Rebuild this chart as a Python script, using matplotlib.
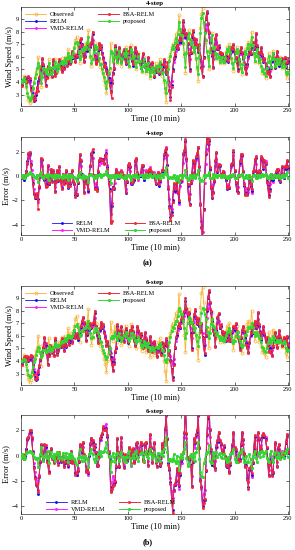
import numpy as np
import matplotlib
matplotlib.use("Agg")
import matplotlib.pyplot as plt

plt.rcParams['font.family'] = ['Liberation Serif', 'DejaVu Serif']

# wind speed in 0.1 m/s, one value per 10-min step (t = 0..250)
observed = [
    42, 39, 41, 45, 43, 36, 30, 26, 23, 25,
    29, 34, 40, 44, 48, 50, 60, 52, 46, 36,
    45, 53, 50, 46, 51, 44, 58, 50, 45, 49,
    53, 50, 58, 52, 48, 55, 50, 56, 59, 53,
    57, 60, 54, 59, 66, 58, 62, 56, 60, 64,
    68, 73, 76, 69, 65, 55, 62, 68, 64, 70,
    66, 69, 72, 81, 65, 60, 53, 58, 66, 71,
    65, 69, 62, 58, 52, 55, 49, 46, 42, 38,
    31, 40, 48, 50, 71, 64, 56, 61, 68, 59,
    55, 62, 66, 58, 53, 59, 65, 61, 68, 63,
    56, 52, 60, 69, 64, 58, 62, 55, 50, 57,
    63, 56, 51, 48, 54, 60, 53, 47, 52, 56,
    49, 43, 48, 53, 50, 45, 55, 52, 48, 54,
    58, 51, 45, 49, 40, 32, 24, 39, 52, 59,
    62, 68, 70, 65, 73, 78, 72, 80, 93, 81,
    76, 79, 70, 61, 47, 64, 78, 81, 73, 69,
    74, 68, 63, 70, 58, 50, 41, 62, 83, 94,
    99, 87, 80, 72, 64, 60, 50, 66, 75, 79,
    65, 69, 62, 58, 63, 59, 55, 59, 61, 56,
    55, 60, 64, 68, 65, 70, 63, 58, 55, 49,
    59, 65, 68, 63, 57, 53, 50, 46, 55, 62,
    66, 61, 69, 72, 65, 70, 80, 68, 62, 56,
    63, 68, 60, 55, 59, 52, 47, 50, 46, 43,
    52, 58, 63, 56, 50, 60, 65, 57, 52, 56,
    59, 53, 56, 60, 51, 55, 58, 52, 46, 43, 50,
]

# 4-step ahead forecasts
relm_4 = [
    40, 38, 41, 42, 43, 40, 42, 44, 42, 35,
    31, 28, 25, 26, 30, 35, 41, 43, 47, 50,
    58, 53, 47, 38, 44, 52, 51, 47, 50, 45,
    57, 51, 46, 48, 52, 51, 57, 53, 49, 54,
    51, 55, 58, 54, 56, 59, 55, 58, 64, 59,
    61, 57, 60, 63, 67, 72, 74, 70, 64, 57,
    61, 67, 65, 69, 66, 68, 71, 78, 66, 61,
    55, 58, 65, 70, 66, 68, 63, 59, 53, 55,
    50, 47, 43, 39, 33, 39, 47, 50, 68, 64,
    57, 60, 67, 60, 56, 61, 65, 59, 54, 58,
    64, 62, 67, 63, 57, 53, 59, 67, 64, 59,
    61, 56, 51, 56, 62, 57, 52, 49, 53, 59,
    54, 48, 51, 55, 50, 44, 48, 52, 50, 46,
    54, 52, 49, 53, 57, 52, 46, 48, 41, 34,
    28, 38, 50, 58, 61, 67, 69, 66, 72, 76,
    72, 79, 88, 81, 76, 78, 70, 62, 50, 63,
    76, 80, 74, 69, 73, 68, 64, 69, 59, 52,
    45, 60, 80, 90, 95, 86, 79, 72, 65, 61,
    52, 65, 74, 77, 66, 68, 63, 59, 62, 59,
    56, 59, 61, 57, 56, 60, 63, 67, 65, 69,
    63, 59, 56, 50, 58, 64, 67, 63, 58, 54,
    51, 47, 54, 61, 65, 62, 68, 71, 66, 69,
    78, 68, 63, 57, 62, 67, 61, 56, 58, 53,
    48, 50, 47, 45, 51, 57, 62, 57, 51, 59,
    64, 58, 53, 55, 58, 54, 56, 59, 52, 55, 57,
]
bsa_relm_4 = [
    41, 37, 42, 43, 44, 39, 41, 45, 43, 34,
    30, 27, 26, 27, 31, 36, 33, 44, 48, 51,
    59, 54, 48, 37, 43, 53, 52, 46, 51, 44,
    58, 52, 45, 47, 53, 52, 58, 52, 48, 55,
    50, 56, 59, 53, 57, 60, 54, 57, 65, 60,
    62, 56, 61, 64, 68, 73, 75, 69, 63, 56,
    60, 68, 66, 70, 67, 69, 72, 80, 67, 60,
    54, 57, 66, 71, 67, 69, 62, 58, 52, 54,
    49, 46, 42, 38, 32, 27, 46, 51, 69, 65,
    58, 61, 68, 61, 57, 62, 66, 60, 55, 59,
    65, 63, 68, 64, 58, 54, 60, 68, 65, 60,
    62, 57, 52, 57, 63, 58, 53, 50, 54, 60,
    55, 49, 52, 56, 51, 45, 49, 53, 51, 47,
    55, 53, 50, 54, 58, 53, 47, 56, 42, 33,
    26, 36, 49, 59, 62, 68, 70, 67, 73, 77,
    73, 80, 89, 82, 77, 79, 71, 63, 49, 64,
    77, 81, 75, 70, 74, 69, 65, 70, 60, 51,
    44, 59, 81, 91, 96, 87, 80, 73, 66, 62,
    51, 66, 75, 78, 67, 69, 64, 60, 63, 60,
    57, 60, 62, 58, 57, 61, 64, 68, 66, 70,
    64, 60, 57, 49, 57, 65, 68, 64, 59, 55,
    50, 46, 53, 62, 66, 63, 69, 72, 67, 70,
    79, 69, 64, 58, 63, 68, 62, 57, 59, 54,
    47, 49, 46, 44, 52, 58, 63, 58, 52, 60,
    65, 59, 54, 56, 59, 55, 57, 60, 53, 56, 58,
]
vmd_relm_4 = [
    41, 40, 41, 42, 42, 40, 40, 41, 40, 37,
    34, 31, 29, 29, 31, 35, 39, 42, 45, 48,
    53, 51, 48, 44, 46, 50, 51, 49, 50, 48,
    53, 51, 49, 50, 52, 52, 55, 53, 51, 53,
    53, 55, 57, 55, 57, 58, 57, 58, 61, 60,
    61, 59, 61, 63, 66, 69, 70, 68, 65, 61,
    63, 66, 66, 68, 67, 68, 70, 73, 67, 63,
    59, 60, 64, 67, 66, 66, 63, 60, 56, 55,
    52, 49, 46, 43, 40, 42, 47, 51, 62, 62,
    58, 60, 64, 61, 58, 60, 63, 60, 57, 58,
    62, 61, 64, 62, 58, 56, 59, 64, 62, 59,
    60, 57, 54, 56, 59, 57, 54, 52, 53, 57,
    54, 50, 51, 53, 51, 48, 49, 52, 51, 49,
    53, 52, 50, 52, 55, 52, 48, 48, 44, 40,
    37, 41, 49, 56, 60, 65, 67, 67, 70, 73,
    71, 75, 81, 78, 75, 76, 71, 66, 58, 63,
    71, 75, 72, 69, 71, 68, 65, 67, 61, 57,
    53, 60, 74, 82, 86, 81, 76, 71, 67, 64,
    58, 64, 70, 72, 66, 67, 64, 61, 62, 60,
    58, 59, 61, 59, 58, 60, 62, 65, 64, 66,
    63, 60, 58, 54, 57, 62, 64, 62, 59, 56,
    54, 51, 54, 59, 62, 62, 66, 68, 66, 67,
    73, 67, 64, 60, 62, 65, 61, 58, 58, 55,
    52, 52, 50, 49, 52, 56, 60, 57, 54, 58,
    61, 58, 55, 56, 57, 55, 56, 58, 54, 55, 56,
]
proposed_4 = [
    41, 40, 42, 43, 41, 37, 31, 28, 26, 27,
    30, 35, 39, 43, 46, 51, 55, 53, 47, 39,
    44, 51, 50, 47, 50, 46, 55, 51, 46, 48,
    52, 51, 56, 53, 49, 54, 51, 55, 57, 54,
    56, 59, 55, 58, 63, 59, 61, 57, 60, 63,
    67, 71, 72, 70, 64, 58, 61, 66, 65, 68,
    66, 68, 71, 76, 66, 61, 55, 58, 64, 69,
    66, 68, 63, 59, 54, 54, 50, 47, 44, 40,
    35, 41, 47, 51, 65, 63, 57, 60, 66, 60,
    56, 61, 65, 59, 55, 58, 63, 61, 66, 63,
    57, 53, 59, 66, 64, 59, 61, 56, 52, 56,
    61, 57, 52, 49, 53, 58, 54, 49, 51, 55,
    50, 45, 48, 52, 50, 47, 53, 52, 49, 53,
    56, 52, 47, 48, 42, 35, 31, 40, 50, 57,
    61, 66, 69, 66, 71, 75, 72, 78, 88, 82,
    77, 77, 71, 62, 52, 63, 75, 79, 74, 70,
    72, 68, 64, 68, 59, 52, 46, 60, 79, 91,
    95, 88, 79, 73, 65, 61, 53, 64, 73, 77,
    67, 68, 63, 59, 62, 60, 56, 58, 60, 57,
    56, 59, 63, 66, 65, 68, 64, 59, 55, 51,
    57, 63, 66, 64, 58, 54, 51, 48, 54, 60,
    65, 62, 67, 70, 66, 69, 76, 69, 63, 57,
    61, 66, 61, 56, 58, 53, 49, 50, 47, 45,
    51, 56, 61, 57, 52, 58, 63, 58, 53, 55,
    58, 54, 56, 58, 52, 54, 57, 53, 48, 46, 48,
]

# 6-step ahead forecasts
relm_6 = [
    40, 38, 40, 42, 43, 41, 43, 40, 42, 44,
    43, 37, 31, 27, 25, 26, 30, 35, 41, 44,
    47, 50, 58, 53, 47, 38, 45, 52, 50, 47,
    50, 45, 57, 51, 46, 49, 52, 51, 57, 52,
    49, 54, 51, 56, 58, 54, 57, 59, 55, 59,
    64, 59, 61, 57, 60, 63, 67, 71, 74, 70,
    65, 57, 61, 67, 65, 69, 66, 69, 71, 78,
    67, 61, 55, 58, 65, 70, 66, 68, 63, 59,
    53, 55, 50, 47, 43, 39, 33, 39, 47, 50,
    68, 64, 57, 60, 67, 60, 56, 61, 65, 59,
    54, 58, 64, 62, 67, 63, 57, 53, 59, 67,
    64, 59, 61, 56, 51, 56, 62, 57, 52, 49,
    53, 59, 54, 48, 51, 55, 50, 44, 48, 52,
    50, 46, 54, 52, 49, 53, 57, 52, 46, 48,
    41, 34, 27, 38, 50, 58, 61, 67, 69, 66,
    72, 76, 72, 79, 88, 81, 76, 78, 70, 62,
    50, 63, 76, 80, 74, 69, 73, 68, 64, 69,
    59, 52, 45, 60, 80, 90, 95, 86, 79, 72,
    65, 61, 52, 65, 74, 77, 66, 68, 63, 59,
    62, 59, 56, 59, 61, 57, 56, 60, 63, 67,
    65, 69, 63, 59, 56, 50, 58, 64, 67, 63,
    58, 54, 51, 47, 54, 61, 65, 62, 68, 71,
    66, 69, 78, 68, 63, 57, 62, 67, 61, 56,
    58, 53, 48, 50, 47, 45, 51, 57, 62, 57,
    51, 59, 64, 58, 53, 55, 58, 54, 56, 59, 52,
]
bsa_relm_6 = [
    41, 37, 41, 43, 44, 40, 44, 41, 43, 45,
    44, 36, 30, 26, 26, 27, 31, 36, 42, 45,
    48, 51, 59, 54, 46, 37, 44, 53, 51, 46,
    51, 44, 58, 52, 45, 48, 53, 52, 58, 53,
    48, 55, 52, 57, 59, 53, 58, 60, 54, 60,
    65, 58, 62, 58, 61, 64, 68, 72, 75, 71,
    66, 56, 62, 68, 66, 70, 67, 70, 72, 80,
    68, 62, 54, 57, 66, 71, 67, 69, 62, 58,
    52, 56, 51, 46, 42, 38, 32, 38, 48, 51,
    69, 65, 58, 61, 68, 61, 55, 62, 66, 60,
    55, 59, 65, 63, 68, 64, 56, 52, 60, 68,
    65, 60, 62, 57, 50, 55, 63, 58, 53, 48,
    54, 60, 55, 47, 52, 56, 51, 43, 47, 53,
    51, 45, 55, 53, 48, 54, 58, 53, 45, 49,
    40, 33, 25, 37, 51, 59, 62, 68, 70, 67,
    73, 77, 73, 80, 90, 82, 77, 79, 71, 61,
    49, 64, 77, 81, 75, 70, 74, 69, 63, 70,
    58, 50, 46, 61, 81, 91, 96, 87, 80, 73,
    64, 62, 51, 66, 75, 78, 67, 69, 64, 58,
    63, 60, 57, 60, 62, 56, 57, 61, 64, 68,
    66, 70, 64, 58, 57, 49, 59, 65, 68, 64,
    57, 53, 50, 46, 55, 62, 66, 63, 69, 72,
    67, 70, 79, 69, 62, 58, 63, 68, 62, 55,
    59, 52, 47, 49, 46, 44, 52, 58, 63, 58,
    50, 60, 65, 59, 52, 56, 59, 55, 57, 60, 53,
]
vmd_relm_6 = [
    41, 40, 41, 42, 42, 41, 42, 41, 41, 42,
    41, 38, 34, 31, 30, 30, 33, 37, 41, 44,
    47, 49, 54, 52, 49, 44, 46, 50, 50, 48,
    50, 48, 54, 52, 49, 50, 52, 52, 55, 53,
    51, 54, 53, 56, 57, 55, 57, 58, 56, 59,
    62, 60, 61, 59, 61, 63, 66, 69, 71, 69,
    66, 61, 62, 66, 65, 68, 67, 68, 70, 74,
    68, 64, 59, 60, 64, 67, 66, 67, 64, 61,
    56, 56, 52, 49, 46, 43, 40, 42, 47, 50,
    62, 62, 58, 60, 64, 61, 58, 61, 63, 60,
    57, 58, 62, 61, 64, 62, 58, 56, 59, 64,
    62, 60, 60, 57, 54, 56, 60, 57, 54, 52,
    54, 57, 54, 50, 52, 54, 51, 48, 49, 52,
    51, 49, 53, 52, 50, 53, 55, 52, 49, 49,
    44, 40, 37, 42, 50, 56, 60, 65, 67, 66,
    70, 73, 72, 76, 82, 78, 75, 77, 71, 66,
    58, 63, 71, 76, 73, 70, 72, 68, 65, 68,
    62, 57, 53, 61, 74, 82, 86, 81, 77, 72,
    67, 64, 58, 64, 70, 72, 66, 67, 64, 61,
    62, 60, 58, 59, 61, 58, 58, 60, 62, 65,
    64, 66, 63, 60, 58, 54, 58, 62, 64, 62,
    59, 56, 54, 51, 55, 60, 63, 62, 66, 68,
    66, 68, 73, 67, 64, 60, 62, 65, 61, 58,
    58, 55, 52, 52, 50, 49, 52, 56, 60, 57,
    54, 58, 61, 58, 55, 56, 57, 55, 56, 58, 54,
]
proposed_6 = [
    40, 40, 41, 42, 41, 38, 33, 29, 27, 28,
    31, 35, 39, 42, 45, 48, 51, 50, 47, 43,
    45, 49, 49, 47, 49, 48, 52, 50, 48, 49,
    51, 51, 54, 53, 51, 53, 52, 54, 56, 55,
    56, 58, 56, 58, 61, 59, 60, 58, 60, 62,
    65, 68, 69, 67, 64, 60, 61, 64, 64, 66,
    66, 67, 69, 72, 66, 62, 58, 59, 63, 66,
    65, 66, 63, 60, 56, 55, 52, 49, 46, 44,
    42, 43, 47, 50, 58, 60, 58, 60, 63, 60,
    57, 60, 62, 59, 56, 58, 61, 60, 63, 62,
    58, 56, 58, 62, 62, 59, 60, 57, 54, 56,
    59, 57, 53, 51, 53, 56, 54, 51, 52, 54,
    51, 48, 49, 51, 50, 48, 51, 51, 50, 52,
    54, 52, 49, 49, 45, 41, 39, 42, 49, 55,
    59, 64, 67, 66, 69, 72, 72, 76, 82, 80,
    77, 77, 72, 66, 58, 62, 70, 75, 73, 70,
    71, 68, 65, 66, 61, 56, 52, 59, 70, 78,
    82, 81, 77, 73, 67, 63, 58, 62, 69, 73,
    68, 67, 64, 61, 62, 60, 57, 58, 59, 57,
    56, 58, 61, 63, 64, 66, 64, 60, 57, 54,
    56, 60, 63, 63, 59, 56, 53, 51, 53, 57,
    61, 61, 64, 67, 66, 67, 70, 67, 63, 60,
    61, 63, 61, 58, 58, 55, 51, 50, 48, 47,
    50, 54, 58, 57, 54, 57, 60, 58, 55, 55,
    57, 55, 55, 57, 54, 54, 56, 54, 50, 48, 49,
]

styles = {
    'Observed': dict(color='#F5B335', marker='o', ms=2.2, mfc='none', mew=0.5, lw=0.6, zorder=1),
    'VMD-RELM': dict(color='#FF1EFF', marker='s', ms=1.0, lw=0.7, zorder=2),
    'RELM': dict(color='#1010F5', marker='.', ms=2.2, lw=0.6, zorder=3),
    'BSA-RELM': dict(color='#F0283C', marker='s', ms=1.0, lw=0.7, zorder=4),
    'proposed': dict(color='#33D633', marker='*', ms=1.8, lw=0.7, zorder=5),
}

obs = np.array(observed) / 10
t = np.arange(len(obs))
step_data = {
    '4-step': {'RELM': relm_4, 'BSA-RELM': bsa_relm_4, 'VMD-RELM': vmd_relm_4, 'proposed': proposed_4},
    '6-step': {'RELM': relm_6, 'BSA-RELM': bsa_relm_6, 'VMD-RELM': vmd_relm_6, 'proposed': proposed_6},
}


def style_axes(ax, ylim, yticks):
    ax.set_xlim(0, 251)
    ax.set_ylim(*ylim)
    ax.set_xticks(range(0, 251, 50))
    ax.set_yticks(yticks)
    ax.tick_params(direction='in', length=2, width=0.4, labelsize=4.6, pad=1.5,
                   top=True, right=True)
    for sp in ax.spines.values():
        sp.set_linewidth(0.4)
    ax.set_xlabel('Time (10 min)', fontsize=6, labelpad=0.5)


def speed_panel(ax, name):
    handles = {}
    handles['Observed'], = ax.plot(t, obs, label='Observed', **styles['Observed'])
    for model, vals in step_data[name].items():
        handles[model], = ax.plot(t, np.array(vals) / 10, label=model, **styles[model])
    style_axes(ax, (2.1, 9.95), range(3, 10))
    ax.set_ylabel('Wind Speed (m/s)', fontsize=6, labelpad=1)
    ax.set_title(name, fontsize=5, fontweight='bold', pad=1.5)
    order = ['Observed', 'RELM', 'VMD-RELM', 'BSA-RELM', 'proposed']
    ax.legend([handles[k] for k in order], order, loc='upper left', ncol=2,
              frameon=False, fontsize=4.6, handlelength=3.2, columnspacing=2.2,
              handletextpad=0.6, labelspacing=0.25, borderaxespad=0.3,
              bbox_to_anchor=(0.0, 1.0))


def error_panel(ax, name, ylim, anchor):
    handles = {}
    for model, vals in step_data[name].items():
        err = np.array(vals) / 10 - obs
        handles[model], = ax.plot(t, err, label=model, **styles[model])
    style_axes(ax, ylim, [-4, -2, 0, 2])
    ax.set_ylabel('Error (m/s)', fontsize=6, labelpad=1)
    ax.set_title(name, fontsize=5, fontweight='bold', pad=1.5)
    order = ['RELM', 'VMD-RELM', 'BSA-RELM', 'proposed']
    ax.legend([handles[k] for k in order], order, loc='lower left', ncol=2,
              frameon=False, fontsize=4.6, handlelength=3.2, columnspacing=2.2,
              handletextpad=0.6, labelspacing=0.25, borderaxespad=0.2,
              bbox_to_anchor=anchor)


fig = plt.figure(figsize=(2.95, 5.5), dpi=100)


def box(top, bottom):
    return [21 / 295, 1 - bottom / 550, 268 / 295, (bottom - top) / 550]


ax1 = fig.add_axes(box(7, 106))
ax2 = fig.add_axes(box(137, 235))
ax3 = fig.add_axes(box(286, 385))
ax4 = fig.add_axes(box(415, 514))

speed_panel(ax1, '4-step')
error_panel(ax2, '4-step', (-4.85, 3.2), (0.1, -0.02))
speed_panel(ax3, '6-step')
error_panel(ax4, '6-step', (-4.6, 3.2), (0.08, -0.02))

fig.text(0.5, 1 - 263 / 550, '(a)', ha='center', va='center', fontsize=6, fontweight='bold')
fig.text(0.5, 1 - 542 / 550, '(b)', ha='center', va='center', fontsize=6, fontweight='bold')

fig.savefig('out.png', dpi=100)
